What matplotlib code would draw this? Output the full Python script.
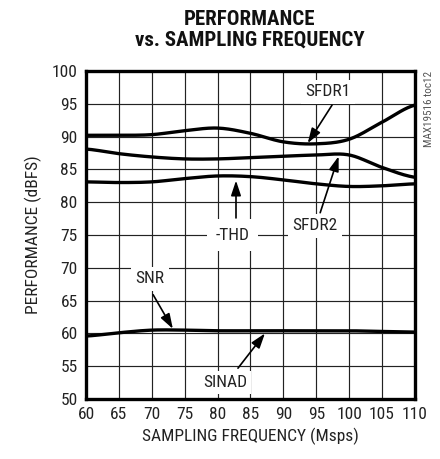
import matplotlib
matplotlib.use("Agg")
import matplotlib.pyplot as plt
import numpy as np

plt.rcParams["font.family"] = ["Roboto Condensed", "Archivo Narrow", "Liberation Sans", "DejaVu Sans"]

# data
freq = [60, 65, 70, 75, 80, 85, 90, 95, 100, 105, 110]
sfdr1 = [90.2, 90.2, 90.3, 90.9, 91.3, 90.5, 89.2, 88.9, 89.6, 92.2, 94.8]
sfdr2 = [88.1, 87.4, 86.9, 86.6, 86.6, 86.8, 87.0, 87.2, 87.2, 85.3, 83.8]
thd = [83.1, 83.0, 83.1, 83.6, 84.0, 83.9, 83.4, 82.8, 82.4, 82.5, 82.8]
snr = [59.6, 60.1, 60.5, 60.5, 60.4, 60.4, 60.4, 60.4, 60.4, 60.3, 60.2]

xticks = list(range(60, 115, 5))
yticks = list(range(50, 105, 5))


def smooth(x, y, n=200):
    # Catmull-Rom through the read points
    x = np.asarray(x, float)
    y = np.asarray(y, float)
    xs, ys = [], []
    for i in range(len(x) - 1):
        p0 = y[max(i - 1, 0)]
        p1, p2 = y[i], y[i + 1]
        p3 = y[min(i + 2, len(y) - 1)]
        t = np.linspace(0, 1, n // len(x), endpoint=False)
        yy = 0.5 * ((2 * p1) + (-p0 + p2) * t + (2 * p0 - 5 * p1 + 4 * p2 - p3) * t ** 2
                    + (-p0 + 3 * p1 - 3 * p2 + p3) * t ** 3)
        xs.append(x[i] + (x[i + 1] - x[i]) * t)
        ys.append(yy)
    xs.append([x[-1]])
    ys.append([y[-1]])
    return np.concatenate(xs), np.concatenate(ys)


fig = plt.figure(figsize=(4.4, 4.59), dpi=100)
ax = fig.add_axes([0.1955, 0.1307, 0.7475, 0.7146])

for v in xticks[1:-1]:
    ax.axvline(v, color="#222222", lw=0.85, zorder=1)
for v in yticks[1:-1]:
    ax.axhline(v, color="#222222", lw=0.85, zorder=1)

for series in (sfdr1, sfdr2, thd, snr):
    sx, sy = smooth(freq, series)
    ax.plot(sx, sy, color="black", lw=2.4, zorder=4, solid_capstyle="butt")

ax.set_xlim(60, 110)
ax.set_ylim(50, 100)
ax.set_xticks(xticks)
ax.set_yticks(yticks)
ax.tick_params(length=0, labelsize=12.5, pad=6, colors="#222222")
for s in ax.spines.values():
    s.set_linewidth(2.4)
    s.set_zorder(6)

ax.set_xlabel("SAMPLING FREQUENCY (Msps)", fontsize=12.5, color="#222222", labelpad=4)
ax.set_ylabel("PERFORMANCE (dBFS)", fontsize=12.5, color="#222222", labelpad=7)

fig.text(0.568, 0.978, "PERFORMANCE\nvs. SAMPLING FREQUENCY", ha="center", va="top",
         fontsize=15, fontweight="bold", linespacing=1.1, color="#111111")
fig.text(0.975, 0.845, "MAX19516 toc12", rotation=90, ha="center", va="top",
         fontsize=8, color="#555555")

arrow = dict(arrowstyle="-|>,head_length=0.9,head_width=0.3", color="black", lw=1.2,
             shrinkA=0, shrinkB=0)


def label(text, at, tail, tip, pad=0.25):
    ax.text(at[0], at[1], text, fontsize=12.5, ha="center", va="center", color="#222222",
            bbox=dict(boxstyle="square,pad=%s" % pad, fc="white", ec="none"), zorder=5)
    ax.annotate("", xy=tip, xytext=tail, arrowprops=arrow, zorder=5)


label("SFDR1", (96.8, 96.8), (97.4, 94.8), (93.7, 89.0))
label("SFDR2", (94.8, 76.4), (95.6, 78.4), (98.4, 87.0))
label("-THD", (82.3, 75.0), (82.8, 77.6), (82.8, 83.3), pad=0.5)
label("SNR", (69.7, 68.3), (70.2, 65.9), (73.2, 60.7))
label("SINAD", (81.1, 52.5), (83.1, 54.7), (87.2, 60.0))

fig.savefig("out.png", dpi=100)
